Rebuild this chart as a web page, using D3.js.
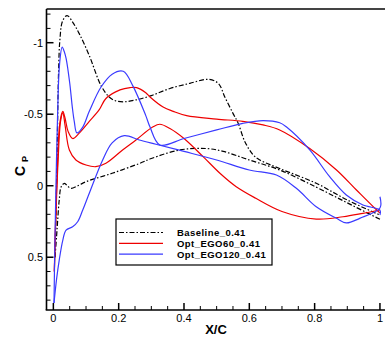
<!DOCTYPE html>
<html>
  <head>
    <meta charset="UTF-8" />
    <style>
      body { margin: 0; background: #fff; }
      svg { display: block; font-family: "Liberation Sans", Arial, sans-serif; }
    </style>
  </head>
  <body>
    <svg width="385" height="337"></svg>
    <script src="https://d3js.org/d3.v7.min.js"></script>
    <script>
      // [x/c, Cp] pairs, leading edge -> trailing edge
      const baselineUpper = [
        [0.005, 0.5], [0.008, 0.2], [0.012, -0.3], [0.016, -0.8], [0.02, -1.02],
        [0.028, -1.15], [0.042, -1.19], [0.06, -1.14], [0.08, -1.06], [0.11, -0.91],
        [0.146, -0.7], [0.171, -0.62], [0.19, -0.594], [0.217, -0.587], [0.253, -0.6],
        [0.3, -0.63], [0.357, -0.68], [0.418, -0.716], [0.474, -0.744], [0.505, -0.716],
        [0.525, -0.62], [0.55, -0.506], [0.566, -0.436], [0.586, -0.31], [0.612, -0.215],
        [0.632, -0.18], [0.693, -0.12], [0.805, -0.017], [0.9, 0.1], [1.0, 0.205]
      ];
      const baselineLower = [
        [0.005, 0.5], [0.01, 0.35], [0.013, 0.25], [0.018, 0.1], [0.024, 0.007],
        [0.034, -0.017], [0.045, 0.005], [0.054, 0.018], [0.075, 0.0], [0.1, -0.028],
        [0.18, -0.087], [0.263, -0.155], [0.3, -0.19], [0.387, -0.25], [0.469, -0.26],
        [0.52, -0.24], [0.6, -0.18], [0.693, -0.11], [0.805, 0.01], [0.9, 0.12], [1.0, 0.235]
      ];
      const ego60Upper = [
        [0.003, 0.6], [0.006, 0.3], [0.012, -0.1], [0.018, -0.4], [0.025, -0.5],
        [0.029, -0.52], [0.036, -0.47], [0.045, -0.38], [0.059, -0.33], [0.08, -0.37],
        [0.11, -0.45], [0.14, -0.53], [0.161, -0.61], [0.204, -0.67], [0.235, -0.686],
        [0.255, -0.686], [0.283, -0.65], [0.296, -0.62], [0.336, -0.55], [0.367, -0.52],
        [0.408, -0.49], [0.5, -0.466], [0.58, -0.45], [0.642, -0.425], [0.693, -0.39],
        [0.785, -0.26], [0.867, -0.11], [0.928, 0.03], [0.99, 0.17], [1.0, 0.19]
      ];
      const ego60Lower = [
        [0.003, 0.6], [0.008, 0.2], [0.015, -0.2], [0.022, -0.45], [0.029, -0.51],
        [0.036, -0.42], [0.049, -0.25], [0.069, -0.18], [0.1, -0.145], [0.13, -0.133],
        [0.161, -0.157], [0.212, -0.25], [0.253, -0.32], [0.304, -0.41], [0.326, -0.43],
        [0.357, -0.4], [0.4, -0.33], [0.46, -0.2], [0.51, -0.087], [0.56, 0.007],
        [0.62, 0.088], [0.7, 0.18], [0.805, 0.233], [0.887, 0.217], [0.948, 0.193], [1.0, 0.17]
      ];
      const ego120Upper = [
        [0.002, 0.82], [0.004, 0.5], [0.008, 0.0], [0.013, -0.5], [0.019, -0.85],
        [0.027, -0.97], [0.033, -0.94], [0.039, -0.89], [0.05, -0.72], [0.058, -0.55],
        [0.064, -0.45], [0.072, -0.37], [0.09, -0.41], [0.11, -0.52], [0.146, -0.69],
        [0.18, -0.78], [0.214, -0.8], [0.243, -0.7], [0.283, -0.49], [0.296, -0.41],
        [0.326, -0.285], [0.4, -0.33], [0.5, -0.39], [0.58, -0.436], [0.642, -0.455],
        [0.693, -0.44], [0.714, -0.41], [0.785, -0.25], [0.846, -0.063], [0.897, 0.065],
        [0.948, 0.135], [1.0, 0.17], [1.0, 0.205]
      ];
      const ego120Lower = [
        [0.002, 0.82], [0.01, 0.65], [0.018, 0.52], [0.029, 0.38], [0.039, 0.31],
        [0.059, 0.287], [0.075, 0.25], [0.09, 0.17], [0.11, 0.053], [0.151, -0.18],
        [0.18, -0.3], [0.217, -0.35], [0.263, -0.32], [0.314, -0.29], [0.4, -0.24],
        [0.5, -0.18], [0.6, -0.11], [0.683, -0.075], [0.744, 0.018], [0.805, 0.147],
        [0.867, 0.228], [0.897, 0.26], [0.938, 0.228], [1.0, 0.156], [1.0, 0.077]
      ];

      const seriesNames = ["Baseline_0.41", "Opt_EGO60_0.41", "Opt_EGO120_0.41"];
      const seriesColors = ["#000000", "#ee0000", "#3a3aff"];
      const seriesDash = ["5,2,1.5,2", "none", "none"];

      const xMajor = [0, 0.2, 0.4, 0.6, 0.8, 1];
      const xMinor = [0.05, 0.1, 0.15, 0.25, 0.3, 0.35, 0.45, 0.5, 0.55, 0.65, 0.7, 0.75, 0.85, 0.9, 0.95];
      const xLabels = ["0", "0.2", "0.4", "0.6", "0.8", "1"];
      const yMajor = [-1, -0.5, 0, 0.5];
      const yMinor = [-1.2, -1.1, -0.9, -0.8, -0.7, -0.6, -0.4, -0.3, -0.2, -0.1, 0.1, 0.2, 0.3, 0.4, 0.6, 0.7, 0.8];
      const yLabels = ["-1", "-0.5", "0", "0.5"];

      const svg = d3.select("svg");
      const pLeft = 46.5, pRight = 385.5, pTop = 9, pBottom = 310;

      const x = d3.scaleLinear().domain([-0.021, 1.017]).range([pLeft, pRight]);
      const y = d3.scaleLinear().domain([-1.2357, 0.869]).range([pTop, pBottom]);

      svg.append("defs").append("clipPath").attr("id", "clip")
        .append("rect").attr("x", pLeft).attr("y", pTop)
        .attr("width", pRight - pLeft).attr("height", pBottom - pTop);

      // minor ticks
      svg.append("g").selectAll("line").data(yMinor).join("line")
        .attr("x1", pLeft).attr("x2", pLeft + 4)
        .attr("y1", (d) => y(d)).attr("y2", (d) => y(d))
        .attr("stroke", "#000").attr("stroke-width", 1);
      svg.append("g").selectAll("line").data(xMinor).join("line")
        .attr("x1", (d) => x(d)).attr("x2", (d) => x(d))
        .attr("y1", pBottom).attr("y2", pBottom - 4)
        .attr("stroke", "#000").attr("stroke-width", 1);

      // major ticks
      svg.append("g").selectAll("line").data(yMajor).join("line")
        .attr("x1", pLeft).attr("x2", pLeft + 7)
        .attr("y1", (d) => y(d)).attr("y2", (d) => y(d))
        .attr("stroke", "#000").attr("stroke-width", 1.5);
      svg.append("g").selectAll("line").data(xMajor).join("line")
        .attr("x1", (d) => x(d)).attr("x2", (d) => x(d))
        .attr("y1", pBottom).attr("y2", pBottom - 7)
        .attr("stroke", "#000").attr("stroke-width", 1.5);

      // tick labels
      svg.append("g").selectAll("text").data(yMajor).join("text")
        .attr("x", pLeft - 3.5).attr("y", (d) => y(d) + 4)
        .attr("text-anchor", "end").attr("font-size", 11)
        .text((d, i) => yLabels[i]);
      svg.append("g").selectAll("text").data(xMajor).join("text")
        .attr("x", (d) => x(d)).attr("y", pBottom + 12)
        .attr("text-anchor", "middle").attr("font-size", 11)
        .text((d, i) => xLabels[i]);

      // curves
      const line = d3.line()
        .x((d) => x(d[0]))
        .y((d) => y(d[1]))
        .curve(d3.curveCatmullRom.alpha(0.5));

      const curves = [
        [baselineUpper, baselineLower],
        [ego60Upper, ego60Lower],
        [ego120Upper, ego120Lower]
      ];
      const plot = svg.append("g").attr("clip-path", "url(#clip)");
      curves.forEach((pair, i) => {
        pair.forEach((pts) => {
          plot.append("path")
            .attr("d", line(pts))
            .attr("fill", "none")
            .attr("stroke", seriesColors[i])
            .attr("stroke-width", 1.2)
            .attr("stroke-dasharray", seriesDash[i]);
        });
      });

      // frame
      svg.append("line").attr("x1", pLeft).attr("x2", pRight)
        .attr("y1", pTop).attr("y2", pTop)
        .attr("stroke", "#444").attr("stroke-width", 2);
      svg.append("line").attr("x1", pLeft).attr("x2", pLeft)
        .attr("y1", pTop).attr("y2", pBottom)
        .attr("stroke", "#000").attr("stroke-width", 1.6);
      svg.append("line").attr("x1", pLeft - 0.8).attr("x2", pRight)
        .attr("y1", pBottom).attr("y2", pBottom)
        .attr("stroke", "#000").attr("stroke-width", 1.6);

      // axis titles
      svg.append("text")
        .attr("x", (pLeft + pRight) / 2).attr("y", 334)
        .attr("text-anchor", "middle").attr("font-size", 13).attr("font-weight", "bold")
        .text("X/C");
      const yt = svg.append("text")
        .attr("transform", "translate(25,176) rotate(-90)")
        .attr("font-weight", "bold");
      yt.append("tspan").attr("font-size", 14).text("C");
      yt.append("tspan").attr("font-size", 9).attr("dx", 4).attr("dy", 3).text("P");

      // legend
      const lg = svg.append("g").attr("class", "legend");
      lg.append("rect").attr("x", 116).attr("y", 219).attr("width", 156).attr("height", 46)
        .attr("fill", "#fff").attr("stroke", "#000").attr("stroke-width", 1.2);
      seriesNames.forEach((name, i) => {
        const ry = 232.5 + i * 10.8;
        lg.append("line").attr("x1", 119).attr("x2", 163).attr("y1", ry).attr("y2", ry)
          .attr("stroke", seriesColors[i]).attr("stroke-width", 1.2)
          .attr("stroke-dasharray", seriesDash[i]);
        lg.append("text").attr("x", 177).attr("y", ry + 3.5)
          .attr("font-size", 9.5).attr("font-weight", "bold")
          .attr("letter-spacing", 0.45)
          .text(name);
      });
    </script>
  </body>
</html>
